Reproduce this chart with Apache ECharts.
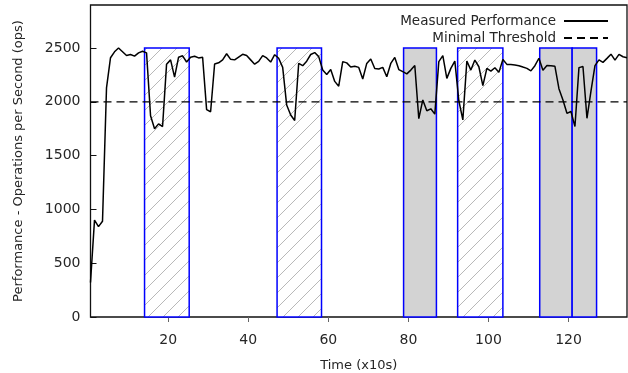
<!DOCTYPE html>
<html>
<head>
<meta charset="utf-8">
<script src="https://cdn.jsdelivr.net/npm/echarts@6/dist/echarts.min.js"></script>
<style>
  html, body { margin: 0; padding: 0; background: #fff; }
  #chart { width: 628px; height: 373px; }
</style>
</head>
<body>
<div id="chart"></div>
<script>
// sampled every 10 s, first sample at t = 0.6
const startTime = 0.6;
const performance = [
  320, 900, 840, 890, 2130, 2410, 2465, 2500, 2465, 2430,
  2440, 2425, 2455, 2470, 2455, 1870, 1750, 1795, 1770, 2350,
  2390, 2230, 2415, 2428, 2370, 2414, 2424, 2408, 2414, 1928,
  1908, 2352, 2363, 2390, 2447, 2395, 2390, 2416, 2442, 2430,
  2390, 2350, 2376, 2430, 2408, 2370, 2438, 2405, 2320, 1970,
  1878, 1826, 2358, 2336, 2378, 2440, 2458, 2420, 2296, 2254,
  2300, 2190, 2145, 2374, 2362, 2323, 2330, 2320, 2212, 2357,
  2398, 2310, 2305, 2320, 2233, 2357, 2413, 2300, 2280, 2260,
  2295, 2338, 1843, 2018, 1917, 1935, 1886, 2374, 2429, 2218,
  2311, 2379, 2010, 1832, 2379, 2295, 2388, 2326, 2150, 2311,
  2286, 2317, 2274, 2393, 2348, 2346, 2342, 2336, 2323, 2311,
  2288, 2336, 2405, 2293, 2337, 2335, 2330, 2122, 2017, 1893,
  1910, 1770, 2318, 2328, 1847, 2100, 2336, 2390, 2367, 2404,
  2443, 2388, 2441, 2419, 2410
];
const threshold = 2000;

// marked windows (x10s)
const hatchStarts = [14.1, 47.2, 92.3];
const hatchEnds = [25.25, 58.3, 103.6];
const grayStarts = [78.8, 112.8, 120.9];
const grayEnds = [87, 120.9, 127];
const windowTop = 2500;

const xTicks = [20, 40, 60, 80, 100, 120];
const yTicks = [0, 500, 1000, 1500, 2000, 2500];

const times = performance.map((_, i) => startTime + i);
const xMin = times[0];
const xMax = times[times.length - 1];

const font = "DejaVu Sans";
const ink = "#262626";

function hatchPattern() {
  const size = 15;
  const c = document.createElement("canvas");
  c.width = size;
  c.height = size;
  const ctx = c.getContext("2d");
  ctx.fillStyle = "#fff";
  ctx.fillRect(0, 0, size, size);
  ctx.strokeStyle = "#b8b8b8";
  ctx.lineWidth = 1;
  ctx.beginPath();
  ctx.moveTo(-1, size + 1);
  ctx.lineTo(size + 1, -1);
  ctx.stroke();
  return { image: c, repeat: "repeat" };
}

const hatchFill = hatchPattern();

function windowSeries(starts, ends, fill) {
  return {
    type: "custom",
    silent: true,
    z: 1,
    encode: { x: [0, 1], y: 2 },
    data: starts.map((s, i) => [s, ends[i], windowTop]),
    renderItem: (params, api) => {
      const p0 = api.coord([api.value(0), api.value(2)]);
      const p1 = api.coord([api.value(1), 0]);
      return {
        type: "rect",
        shape: { x: p0[0], y: p0[1], width: p1[0] - p0[0], height: p1[1] - p0[1] },
        style: { fill, stroke: "#0000ff", lineWidth: 1.5 },
      };
    },
  };
}

const chart = echarts.init(document.getElementById("chart"), null, { renderer: "canvas" });

chart.setOption({
  animation: false,
  textStyle: { fontFamily: font, color: ink },
  grid: {
    left: 90.5, right: 1, top: 5, bottom: 56,
    outerBoundsMode: "none",
    show: true, borderColor: "#111", borderWidth: 1.3, backgroundColor: "transparent",
  },
  legend: {
    orient: "vertical",
    right: 14,
    top: 9,
    align: "right",
    itemGap: 3,
    itemWidth: 44,
    itemHeight: 14,
    itemStyle: { opacity: 0 },
    textStyle: { fontFamily: font, fontSize: 13.5, color: ink, padding: [0, 3, 0, 0] },
    data: ["Measured Performance", "Minimal Threshold"],
  },
  xAxis: {
    type: "value",
    min: xMin,
    max: xMax,
    name: "Time (x10s)",
    nameLocation: "middle",
    nameGap: 42,
    nameTextStyle: { fontFamily: font, fontSize: 13, color: ink },
    axisLine: { show: false },
    axisTick: { show: true, length: 5, lineStyle: { color: "#666" }, customValues: xTicks },
    axisLabel: { fontFamily: font, fontSize: 14, color: ink, margin: 16, customValues: xTicks },
    splitLine: { show: false },
  },
  yAxis: {
    type: "value",
    min: 0,
    max: 2900,
    name: "Performance - Operations per Second (ops)",
    nameLocation: "middle",
    nameGap: 65,
    nameTextStyle: { fontFamily: font, fontSize: 13, color: ink },
    axisLine: { show: false },
    axisTick: { show: true, inside: true, length: 6, lineStyle: { color: "#111" }, customValues: yTicks },
    axisLabel: {
      fontFamily: font, fontSize: 14, color: ink, margin: 10, customValues: yTicks,
      formatter: (v) => String(v),
    },
    splitLine: { show: false },
  },
  series: [
    windowSeries(hatchStarts, hatchEnds, hatchFill),
    windowSeries(grayStarts, grayEnds, "#d3d3d3"),
    {
      name: "Minimal Threshold",
      type: "line",
      z: 3,
      symbol: "none",
      data: [[xMin, threshold], [xMax, threshold]],
      lineStyle: { color: "#000", width: 1.3, type: [8, 5] },
      itemStyle: { color: "#000" },
    },
    {
      name: "Measured Performance",
      type: "line",
      z: 4,
      symbol: "none",
      data: times.map((t, i) => [t, performance[i]]),
      lineStyle: { color: "#000", width: 1.5 },
      itemStyle: { color: "#000" },
    },
  ],
});
</script>
</body>
</html>
